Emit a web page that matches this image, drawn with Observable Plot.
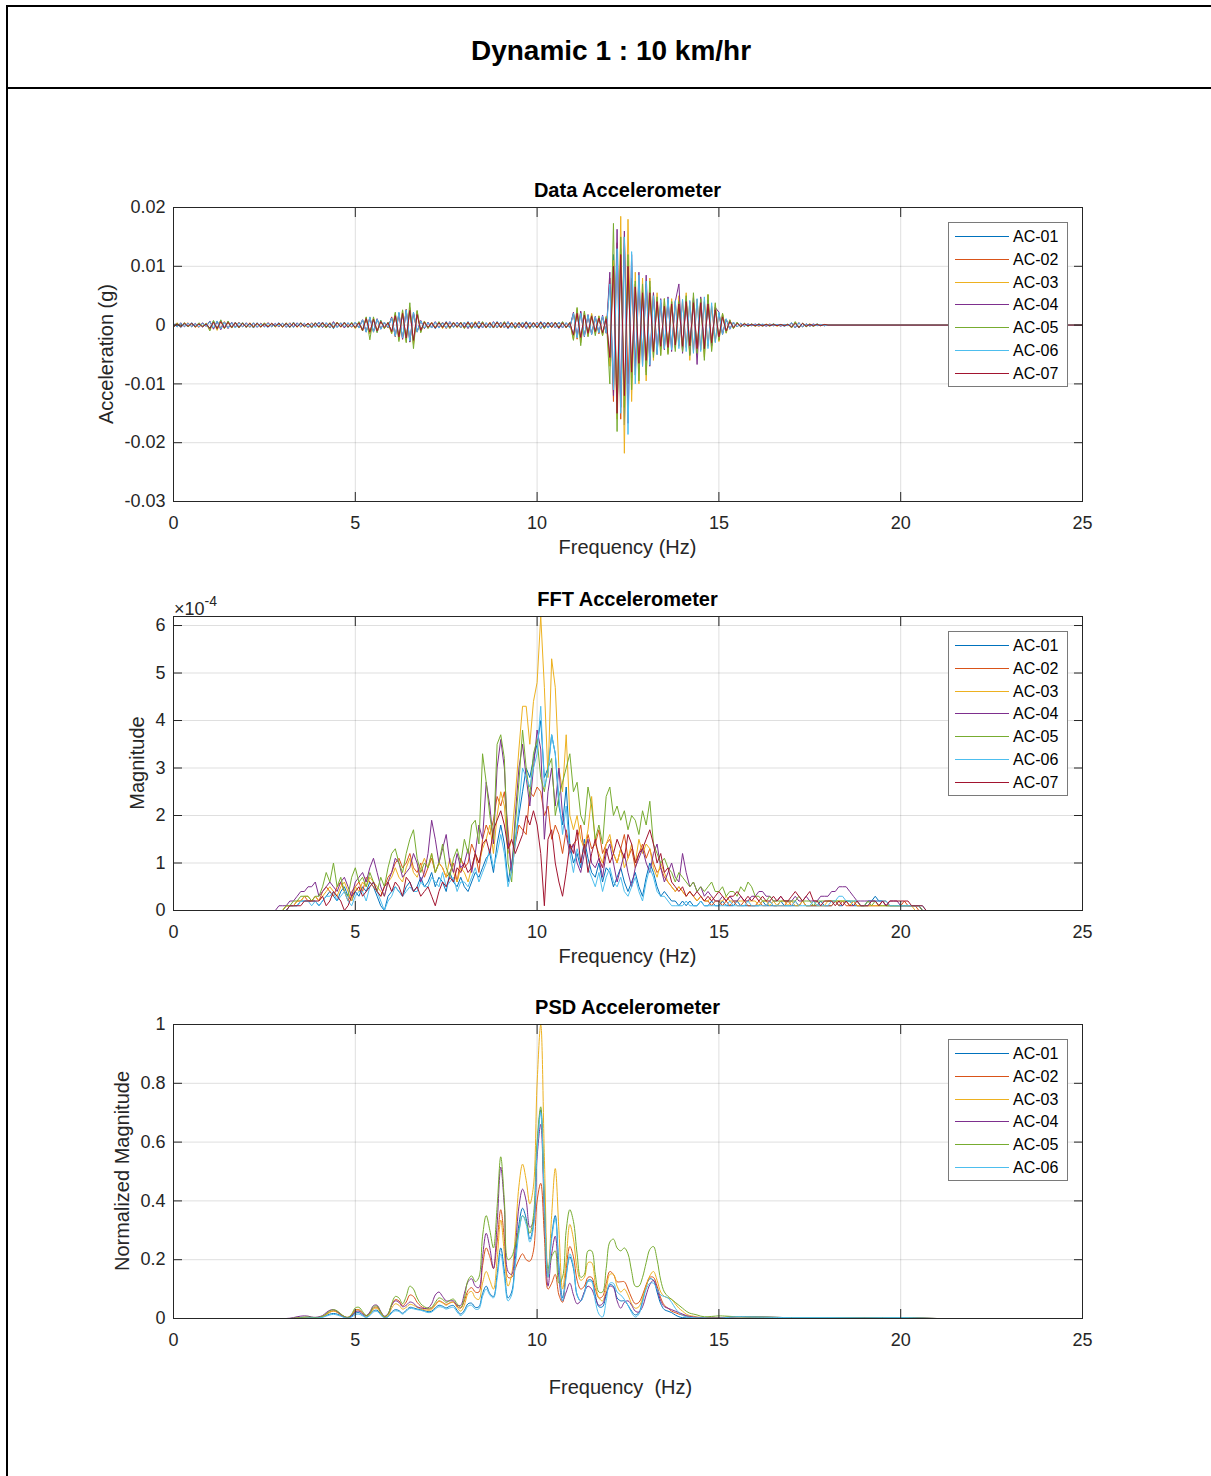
<!DOCTYPE html>
<html><head><meta charset="utf-8">
<script src="https://cdn.jsdelivr.net/npm/d3@7"></script>
<script src="https://cdn.jsdelivr.net/npm/@observablehq/plot@0.6"></script>
<style>
html,body{margin:0;padding:0;background:#fff;overflow:hidden;}
#page{position:relative;width:1211px;height:1476px;overflow:hidden;font-family:"Liberation Sans",Arial,Helvetica,sans-serif;color:#262626;background:#fff;}
.frame{position:absolute;left:6px;top:5px;width:1400px;height:1700px;border:2px solid #000;box-sizing:border-box;}
.band{position:absolute;left:6px;top:87px;width:1400px;height:2px;background:#000;}
.title{position:absolute;left:6px;width:1210px;top:37px;text-align:center;font-weight:bold;font-size:28px;line-height:1;color:#000;}
.ptitle{position:absolute;width:909px;left:173px;text-align:center;font-weight:bold;font-size:20px;line-height:1;color:#000;}
.xlabel{position:absolute;width:909px;left:173px;text-align:center;font-size:20px;line-height:1;white-space:pre;}
.ylabel{position:absolute;white-space:nowrap;font-size:20px;line-height:1;transform:translate(-50%,-50%) rotate(-90deg);}
.legend{position:absolute;left:948px;width:120px;border:1px solid #7a7a7a;background:#fff;box-sizing:border-box;}
.li{position:absolute;left:0;height:20px;width:118px;}
.li .sw{position:absolute;left:6px;width:54px;top:9px;height:0;}
.li .tx{position:absolute;left:64px;top:1px;font-size:16px;line-height:18px;color:#000;}
.expo{position:absolute;left:174px;top:596px;font-size:18px;line-height:1;}
.expo sup{font-size:14px;position:relative;top:-2px;}
</style></head>
<body><div id="page">
<div class="frame"></div><div class="band"></div>
<div class="title">Dynamic 1 : 10 km/hr</div>
</div>
<script>
// ---------------- DATA ----------------
const names = ["AC-01","AC-02","AC-03","AC-04","AC-05","AC-06","AC-07"];
const colors = ["#0072BD","#D95319","#EDB120","#7E2F8E","#77AC30","#4DBEEE","#A2142F"];
const xTicks = [0,5,10,15,20,25];

// Panel 1: acceleration, units 1e-4 g, sampled every 0.1 Hz from 0 to 18
const accX0 = 0, accStep = 0.1;
const acc01 = [0,3,-4,2,-3,4,-2,3,-3,2, -5,7,-6,8,-5,6,-4,5,-3,4, -4,3,-5,4,-3,2,-4,3,-2,4, -3,2,-4,5,-3,4,-2,3,-5,4, -3,5,-4,3,-6,4,-3,5,-4,3,
 -5,4,-8,12,-14,10,-12,8,-5,4, -12,18,-22,20,-25,28,-30,22,-10,6, -5,4,-6,5,-4,6,-5,4,-3,5, -4,6,-5,4,-6,5,-4,3,-5,6, -4,5,-6,4,-5,3,-4,6,-5,4,
 -5,6,-4,5,-3,4,-6,5,-4,3, -18,22,-25,20,-15,18,-12,14,-16,12, -60,120,-150,130,-170,110,-90,70,-75,60, -80,65,-50,45,-40,35,-45,40,-38,42,
 -40,45,-35,42,-48,40,-45,38,-35,30, -25,18,-12,8,-5,4,-3,2,-2,2, -1,2,-2,1,-1,2,-1,1,-2,1, -3,4,-5,3,-2,1,-2,2,-1,1, 0];
const acc02 = [2,-3,3,-2,4,-3,2,-4,3,-2, 6,-6,7,-5,6,-5,4,-4,5,-3, 3,-4,4,-3,3,-2,4,-3,2,-3, 3,-3,4,-4,3,-3,2,-4,4,-3, 4,-4,3,-5,5,-3,4,-4,3,-4,
 4,-5,9,-11,13,-12,10,-6,4,-5, 14,-20,20,-24,27,-28,20,-12,7,-5, 4,-5,5,-4,5,-6,4,-3,4,-5, 5,-5,4,-5,6,-4,3,-4,5,-5, 4,-5,5,-4,4,-3,5,-5,4,-4,
 5,-5,4,-4,4,-5,5,-4,3,-4, 20,-24,22,-18,16,-15,13,-15,14,-12, 80,-130,140,-160,150,-100,80,-70,65,-55, 70,-60,55,-45,38,-40,42,-38,40,-36,
 42,-38,40,-45,44,-42,40,-36,32,-28, 20,-15,10,-6,4,-3,2,-2,2,-1, 1,-2,1,-1,2,-1,1,-1,1,-1, 3,-4,4,-3,2,-2,1,-1,1,-1, 0];
const acc03 = [-3,4,-3,4,-2,3,-4,3,-2,3, -8,6,-9,7,-6,5,-5,4,-4,3, -3,4,-3,3,-4,3,-2,3,-3,2, -4,3,-3,4,-4,3,-3,3,-4,3, -4,4,-3,4,-5,5,-4,4,-3,3,
 -6,5,-10,13,-15,12,-10,7,-6,4, -15,20,-25,25,-28,30,-33,24,-12,7, -5,5,-4,5,-6,4,-5,4,-4,4, -5,5,-4,6,-5,4,-5,5,-4,5, -5,4,-5,5,-4,4,-5,5,-4,4,
 -4,5,-5,4,-4,5,-5,4,-4,4, -25,28,-30,22,-18,20,-14,16,-18,15, -70,110,-160,185,-218,180,-130,90,-100,80, -95,80,-60,55,-50,45,-48,45,-40,50,
 -45,55,-60,48,-50,45,-55,52,-42,35, -28,20,-14,9,-6,4,-3,3,-2,2, -2,1,-2,2,-1,1,-2,1,-1,1, -4,5,-4,3,-2,2,-2,1,-1,1, 0];
const acc04 = [3,-3,4,-3,3,-2,3,-3,4,-2, 7,-7,6,-8,5,-6,5,-4,4,-3, 4,-3,3,-4,3,-3,4,-2,3,-3, 3,-4,3,-3,4,-3,3,-4,3,-3, 5,-4,4,-4,6,-4,3,-5,4,-3,
 5,-4,9,-12,13,-11,11,-7,5,-4, 13,-19,21,-24,26,-29,22,-11,8,-6, 5,-4,6,-5,4,-5,6,-4,5,-4, 4,-6,5,-4,6,-5,4,-5,6,-4, 5,-4,6,-5,4,-5,4,-6,5,-4,
 4,-6,5,-4,5,-4,5,-5,4,-4, 22,-20,24,-20,18,-16,15,-13,17,-14, 90,-120,163,-140,160,-167,120,-85,90,-70, 85,-70,55,-50,45,-42,48,-45,40,70,
 -48,42,-50,46,-67,48,-40,42,-35,30, 22,-16,10,-7,5,-3,3,-2,2,-1, 2,-1,1,-2,1,-1,1,-2,1,-1, 4,-5,4,-3,2,-1,2,-1,1,-1, 0];
const acc05 = [-4,3,-3,4,-3,2,-3,4,-2,3, -10,8,-7,9,-6,7,-5,4,-5,4, -4,3,-4,3,-3,4,-3,2,-3,3, -3,4,-4,3,-3,4,-3,2,-4,4, -4,3,-5,4,-4,5,-3,4,-4,5,
 -5,6,-10,14,-25,14,-13,8,-6,5, -14,22,-28,26,-30,38,-40,25,-13,6, -6,4,-5,6,-4,5,-6,5,-4,5, -6,4,-6,5,-4,6,-5,4,-5,5, -4,6,-5,4,-6,5,-4,5,-6,4,
 -5,4,-6,5,-4,5,-4,6,-5,5, -26,30,-35,24,-20,16,-18,15,-18,14, -100,173,-181,150,-140,120,-110,75,-95,70, -85,75,-55,48,-52,45,-50,40,-45,40,
 -45,50,-52,55,-48,45,-60,52,-45,38, -26,20,-13,9,-6,5,-3,3,-2,2, -2,2,-1,1,-2,2,-1,1,-1,2, -5,6,-4,3,-3,2,-2,2,-1,1, 0];
const acc06 = [2,-3,3,-2,3,-3,2,-3,3,-2, 6,-5,7,-6,5,-5,4,-5,4,-3, 3,-3,4,-3,2,-3,3,-3,2,-2, 3,-3,3,-4,3,-3,3,-3,3,-4, 4,-3,4,-4,4,-4,4,-3,4,-3,
 5,-5,9,-12,14,-12,10,-7,5,-4, 12,-19,22,-22,26,-27,22,-12,7,-5, 4,-5,5,-5,4,-5,5,-4,4,-4, 5,-4,5,-5,5,-4,4,-5,5,-4, 4,-4,5,-5,4,-4,5,-4,5,-4,
 4,-5,4,-5,4,-4,5,-4,4,-5, 20,-22,20,-19,17,-16,14,-13,15,-13, 70,-110,130,-150,150,-186,125,-100,85,-70, 75,-68,50,-50,43,-40,45,-42,42,-40,
 44,-45,42,-48,45,-45,48,-40,38,-30, 22,-16,11,-7,5,-3,3,-2,2,-1, 1,-1,2,-1,1,-1,1,-1,1,-1, 4,-4,4,-3,2,-2,1,-1,1,-1, 0];
const acc07 = [-3,2,-3,3,-2,3,-3,2,-3,2, -6,5,-6,6,-5,5,-4,4,-4,3, -3,3,-3,3,-3,2,-3,3,-2,3, -3,3,-3,3,-3,3,-2,3,-3,3, -3,4,-3,3,-4,4,-3,4,-3,3,
 -4,4,-9,11,-12,10,-10,6,-4,4, -11,16,-20,20,-22,25,-26,18,-9,5, -4,4,-5,4,-4,5,-4,4,-3,4, -4,5,-4,4,-5,4,-4,4,-4,5, -4,4,-5,4,-4,4,-4,5,-4,4,
 -4,5,-4,4,-4,4,-5,4,-4,4, -17,20,-21,17,-14,15,-11,12,-13,11, -55,100,-150,120,-120,100,-80,65,-65,55, -60,55,-45,40,-36,32,-38,36,-34,36,
 -36,40,-35,38,-40,38,-40,36,-30,26, -20,14,-10,6,-4,3,-2,2,-1,1, -1,1,-1,1,-1,1,-1,1,-1,1, -3,3,-4,3,-2,1,-1,1,-1,1, 0];
const accTailX = [25], accTailV = [0];
const accYTicks = [-0.03,-0.02,-0.01,0,0.01,0.02];

// Panel 2: FFT magnitude, units 1e-5, every 0.1 Hz from 2.5 to 20.9
const fftX0 = 2.5, fftStep = 0.1;
const fft01 = [0,0,0,0,0, 0,0,1,1,1,2,2,2,2,2, 1,2,3,4,3,2,4,5,3,2, 4,3,5,4,6,5,3,1,0,3, 4,5,4,3,5,6,4,5,7,5, 6,8,5,7,6,4,8,6,5,7,
 5,4,6,8,7,9,11,12,8,14, 18,14,6,10,15,20,25,30,28,32, 35,40,28,30,37,33,22,18,26,14, 10,12,9,15,11,8,7,10,6,9, 8,5,7,9,6,4,6,8,5,3,
 7,10,8,5,3,4,3,2,2,1, 2,1,2,1,1,2,1,1,2,1, 1,2,1,1,1,2,1,1,1,1, 1,1,2,1,1,1,1,2,1,1, 1,1,1,2,1,1,1,1,2,1, 1,1,2,1,1,2,2,1,1,1,
 1,2,2,3,2,2,1,1,1,1, 1,1,1,1,1,1,0,0,0,0];
const fft02 = [0,0,0,0,0, 0,1,1,1,2,2,3,2,2,3, 2,4,5,4,3,5,6,4,2,4, 5,6,4,7,6,5,4,3,5,7, 8,10,11,9,10,12,9,8,10,7, 9,11,8,10,9,7,8,10,6,11,
 9,10,14,12,8,15,18,16,19,24, 22,25,17,8,14,18,17,16,25,24, 26,25,20,22,15,18,16,12,17,13, 14,15,18,12,16,13,14,17,12,14, 15,12,10,13,16,11,13,9,12,14,
 11,13,10,8,9,7,6,5,4,5, 4,3,4,3,2,3,2,2,1,2, 2,1,2,1,2,1,1,2,1,1, 1,2,1,1,2,1,1,1,1,2, 1,2,1,2,1,1,1,1,1,1, 1,1,2,1,2,1,1,2,1,1,
 1,1,1,1,1,2,2,1,1,1, 1,2,1,1,1,0,0,0,0,0];
const fft03 = [0,0,0,0,0, 0,1,1,1,2,2,3,3,2,3, 2,3,4,5,4,3,5,6,4,2, 5,4,6,5,7,6,5,4,3,6, 7,9,7,6,9,11,8,7,9,11, 9,12,8,10,9,7,11,8,6,9,
 8,6,9,12,10,13,15,18,12,20, 25,22,12,15,24,34,43,43,35,44, 48,62,47,28,53,47,30,25,37,20, 17,20,15,13,17,24,14,12,10,14, 16,12,10,13,9,11,14,10,15,12,
 14,13,9,7,10,8,6,5,4,5, 4,3,4,3,2,3,2,2,3,2, 2,2,3,2,2,2,2,2,2,2, 2,1,2,2,1,2,1,2,2,1, 2,1,1,2,1,1,2,1,1,1, 2,2,2,2,2,2,1,2,1,1,
 1,1,1,1,1,1,1,1,1,1, 1,1,1,1,0,0,0,0,0,0];
const fft04 = [0,0,0,0,1, 1,1,2,2,3,4,4,5,5,6, 3,4,5,6,5,4,6,7,5,3, 6,7,8,6,9,11,8,5,3,6, 8,11,10,7,8,9,12,10,6,8, 12,19,15,10,13,16,10,8,12,9,
 10,13,8,12,18,15,27,22,14,30, 36,30,15,8,20,30,35,28,22,30, 38,34,15,25,30,22,30,20,16,12, 14,10,8,12,15,10,9,11,7,12, 14,10,6,9,12,8,5,9,11,13,
 10,8,12,14,9,6,8,10,7,6, 12,8,5,6,4,5,3,4,3,2, 2,3,2,3,2,2,3,2,2,3, 3,4,4,3,3,2,2,3,2,2, 2,3,2,2,3,2,2,2,3,3, 3,4,4,5,5,5,4,3,2,2,
 2,2,2,2,2,2,1,2,2,2, 1,1,1,1,1,1,0,0,0,0];
const fft05 = [0,0,0,0,0, 0,1,1,2,2,3,3,3,2,3, 3,5,8,6,10,5,7,4,3,7, 9,6,7,5,8,6,4,7,5,9, 12,13,10,8,12,15,17,11,8,10, 9,12,8,10,14,9,7,11,13,10,
 15,12,18,19,14,33,27,20,15,35, 37,32,10,6,18,27,38,30,24,33, 36,28,25,30,32,20,24,27,30,33, 25,27,20,18,26,22,15,18,14,24, 26,20,22,19,21,17,20,19,16,21,
 18,23,14,12,10,11,9,8,6,8, 7,6,5,6,4,5,4,5,6,4, 4,5,3,4,4,3,5,4,6,5, 3,3,2,2,3,2,2,2,2,2, 2,2,3,2,2,2,1,2,2,2, 2,2,2,2,2,2,2,2,2,1,
 1,2,1,2,1,1,1,1,1,1, 1,1,1,1,1,1,0,0,0,0];
const fft06 = [0,0,0,0,0, 0,0,1,1,1,2,2,2,1,2, 1,2,3,3,4,2,3,4,2,1, 3,4,4,2,5,6,4,2,0,2, 3,5,4,3,4,5,4,4,6,5, 5,7,6,5,8,5,6,7,4,6,
 6,5,7,9,6,8,10,13,9,12, 16,12,5,8,14,22,30,28,26,30, 33,43,26,29,37,33,24,16,22,12, 8,13,10,14,9,7,5,8,4,7, 9,6,5,7,4,3,5,7,4,2,
 6,9,7,4,3,3,2,1,1,1, 1,2,1,1,1,2,1,1,1,1, 1,1,1,2,1,1,1,1,2,1, 1,1,1,1,2,1,1,1,1,1, 1,2,1,1,1,1,2,1,1,1, 1,2,2,3,3,2,2,2,2,1,
 1,1,2,2,2,2,2,1,1,1, 1,1,1,1,1,1,1,0,0,0];
const fft07 = [0,0,0,0,0, 0,0,1,1,1,1,2,2,2,2, 2,3,1,2,4,3,2,0,1,3, 4,5,3,4,5,6,4,3,5,6, 4,6,5,3,7,6,4,5,3,4, 5,3,1,4,6,5,7,6,9,8,
 10,8,9,12,10,14,15,12,17,19, 21,18,13,15,12,14,16,20,18,21, 18,12,1,15,17,10,6,3,8,14, 12,17,10,14,8,12,15,11,9,13, 10,12,15,13,11,16,14,10,12,13,
 15,17,14,10,12,8,9,6,5,4, 5,3,4,3,4,3,2,3,2,3, 4,3,2,3,3,4,3,2,3,2, 3,2,3,2,2,3,2,3,2,2, 3,4,3,2,3,4,2,2,1,2, 2,2,1,2,1,2,1,1,2,1,
 1,1,2,2,1,2,1,2,2,2, 2,2,2,1,1,1,1,0,0,0];
const fftLeadX = [0], fftLeadV = [0];
const fftTailX = [21.5, 25], fftTailV = [0, 0];
const fftYTicks = [0,1,2,3,4,5,6];

// Panel 3: PSD normalized, units 0.01, every 0.1 Hz from 3.0 to 15.0
const psdX0 = 3, psdStep = 0.1;
const psd01 = [0,0,0,0,0.1,0.1,0.2,0.2,0.2,0.2, 0.2,0.5,1.0,1.5,1.7,1.5,1.0,0.4,0.2,0.8, 1.8,2.0,1.2,0.5,1.3,2.6,2.8,1.5,0.3,0.7,
 2.2,3.0,2.7,1.8,2.8,3.8,3.6,3.2,3.0,2.7, 2.3,2.5,3.6,4.5,4.2,3.6,4.2,4.4,2.8,1.5, 2.8,5.0,5.2,3.8,4.0,8.5,11,8.5,7.5,15,
 24,16,7,9,20,32,37.5,34,27,32, 58,71,40,15,28,35,18,7,15,21, 17,8,6,9,13,13,8,4,4,8, 11.5,11,7,6,6,4.5,2.5,1.2,2,6,
 11,13.5,13,9,5,3,2.5,2,1.2,0.6, 0.3,0.2,0.2,0.1,0.1,0.1,0.1,0.1,0.1,0.1, 0.1];
const psd02 = [0,0,0,0,0.1,0.2,0.3,0.3,0.3,0.2, 0.3,0.7,1.4,2.2,2.6,2.2,1.3,0.6,0.4,1.3, 2.9,3.0,1.9,1.0,1.8,3.6,3.8,2.0,0.6,1.4,
 4.6,6.4,6.0,4.3,5.6,8.0,7.5,5.5,4.2,3.5, 3.2,3.4,4.8,6.0,5.5,4.8,5.3,5.6,4.2,3.5, 6.0,9.5,10.5,9.0,9.0,18,24,21,17,26,
 37,27,14,14,17,20,22,20,19.5,23, 40,46,28,10,12,15,8,5.5,17,24.5, 21,13,10,11,14,14,10,7,7.5,12, 16,15,12.5,12.5,12.5,10,7,5,5.5,8,
 11.5,14,14,11,7,4.5,3.5,2.5,2,1.5, 1.2,0.8,0.5,0.4,0.3,0.2,0.2,0.2,0.2,0.2, 0.2];
const psd03 = [0,0,0,0,0.1,0.2,0.3,0.3,0.3,0.2, 0.3,0.6,1.3,2.1,2.5,2.1,1.3,0.6,0.3,1.1, 2.7,2.9,1.8,0.8,1.5,3.2,3.4,1.8,0.5,1.0,
 3.5,5.0,4.5,3.2,3.8,4.8,4.5,3.8,3.3,3.0, 2.8,3.0,4.5,5.8,5.3,4.5,5.3,5.5,3.8,2.5, 4.5,8.5,9.2,7.0,6.5,12,16,13,10,20,
 33.5,22,11,15,28,45,52.5,47,39,45, 80,100,55,14,35,51,30,10,20,32, 27,17,13,14,19,19,12,7,6,10, 15,15,11,9,10,8,5,3.5,4,7,
 11,14.5,16,13,9,7.5,7,6.5,5,3.5, 2.5,1.5,1.0,0.8,0.5,0.4,0.3,0.3,0.3,0.3, 0.3];
const psd04 = [0,0,0.1,0.3,0.6,0.8,0.9,0.8,0.5,0.4, 0.6,1.0,2.0,2.8,3.0,2.4,1.4,0.6,0.3,1.0, 2.3,2.5,1.6,1.0,2.2,4.4,4.5,2.4,0.8,1.6,
 4.5,6.0,5.5,4.0,4.5,5.6,5.2,4.0,3.6,3.4, 3.6,5.0,8.0,9.0,7.5,6.0,6.0,6.0,4.5,4.5, 8.5,12.5,13.5,11,10.5,21,29,24,17,32,
 51.5,38,16,15,24,38,44,40,31,33, 55,66,35,11,22,28,14,6,9,12, 8,5,6,9,11,10,7,4.5,5,8.5, 11,10.5,6,3.5,5.5,6,4.5,2.5,2.2,4,
 8,11.5,13,10,6,4,3.5,3,2.5,2, 1.5,1,0.7,0.5,0.4,0.3,0.2,0.2,0.2,0.2, 0.2];
const psd05 = [0,0,0,0.1,0.2,0.3,0.5,0.5,0.4,0.3, 0.4,0.8,1.6,2.6,3.0,2.6,1.6,0.7,0.4,1.5, 3.6,3.8,2.4,1.0,1.8,4.0,4.2,2.2,0.6,1.5,
 5.0,7.5,7.0,5.0,7.5,11,10,7,5,4, 3.5,3.8,5.5,7,6.5,5.5,6.2,6.6,5,3.8, 7,13,14.5,12.5,14,28,35,30,24,38,
 55,40,20,21,25,30,35,33,29,35, 60,72,40,17,21,23,12,14,30,37, 33,22,14,15,23,23,15,9,9,17, 26,27,24,23,24,22,16,11,11,14,
 19,23.5,24.5,20,13,9,7.5,6.5,5.5,4.5, 3.5,2.5,1.8,1.5,1.2,0.8,0.6,0.6,0.7,0.8, 0.9];
const psd06 = [0,0,0,0,0,0.1,0.1,0.2,0.2,0.1, 0.2,0.4,0.8,1.2,1.4,1.2,0.8,0.3,0.1,0.5, 1.3,1.5,0.9,0.3,1.0,2.2,2.4,1.2,0.1,0.5,
 1.8,2.6,2.4,1.5,2.5,3.4,3.3,3.0,2.8,2.4, 2.0,2.2,3.2,4.0,3.8,3.2,3.6,3.8,2.2,1.0, 2.2,4.2,4.5,3.2,3.3,7.5,10,8,7,13.5,
 22,14,6,8,18,29,35,32,26,31, 57,70,39,14,27,34,17,6,14,22, 18,8,6,8.5,12.5,12.5,6,1.5,0.5,6, 12,12,9,8,6.5,4.5,2,0.5,1.5,5.5,
 10,12,12,10,8,7.5,7,5.5,3.5,2, 1,0.6,0.4,0.3,0.2,0.2,0.2,0.1,0.1,0.1, 0.1];
const psdLeadX = [0], psdLeadV = [0];
const psdTailX = [15.5,16,17,18,19,20,21,25], psdTailV = [0.6,0.5,0.3,0.3,0.2,0.3,0,0];
const psdYTicks = [0,0.2,0.4,0.6,0.8,1];

// ---------------- BUILD ----------------
const FONT = '"Liberation Sans", Arial, Helvetica, sans-serif';
const page = document.getElementById("page");
function grid(vals, x0, step, unit) { return vals.map((v, i) => ({x: Math.round((x0 + i * step) * 1000) / 1000, y: v * unit})); }
function pts(xs, vs, unit) { return xs.map((x, i) => ({x, y: vs[i] * unit})); }

const accSeries = [acc01,acc02,acc03,acc04,acc05,acc06,acc07].map(a => grid(a, accX0, accStep, 1e-4).concat(pts(accTailX, accTailV, 1e-4)));
const fftSeries = [fft01,fft02,fft03,fft04,fft05,fft06,fft07].map(a => pts(fftLeadX, fftLeadV, 0.1).concat(grid(a, fftX0, fftStep, 0.1), pts(fftTailX, fftTailV, 0.1)));
const psdSeries = [psd01,psd02,psd03,psd04,psd05,psd06].map(a => pts(psdLeadX, psdLeadV, 0.01).concat(grid(a, psdX0, psdStep, 0.01), pts(psdTailX, psdTailV, 0.01)));

function panel(top, yDomain, yTicks, yFmt, series, curve) {
  const svg = Plot.plot({
    width: 1211, height: 294 + 80,
    marginLeft: 173, marginRight: 129, marginTop: 40, marginBottom: 40,
    style: {fontFamily: FONT, fontSize: "18px", color: "#262626", background: "transparent", overflow: "visible"},
    x: {domain: [0, 25]},
    y: {domain: yDomain},
    marks: [
      Plot.gridX(xTicks, {stroke: "#262626", strokeOpacity: 0.15, strokeWidth: 1}),
      Plot.gridY(yTicks, {stroke: "#262626", strokeOpacity: 0.15, strokeWidth: 1}),
      ...series.map((d, k) => Plot.line(d, {x: "x", y: "y", stroke: colors[k], strokeWidth: 1, curve, clip: true})),
      Plot.frame({stroke: "#262626", strokeWidth: 1}),
      Plot.axisX(xTicks, {anchor: "bottom", tickSize: -9, tickPadding: 24, label: null, tickFormat: d => String(d)}),
      Plot.axisX(xTicks, {anchor: "top", tickSize: -9, label: null, tickFormat: () => ""}),
      Plot.axisY(yTicks, {anchor: "left", tickSize: -9, tickPadding: 17, label: null, tickFormat: yFmt}),
      Plot.axisY(yTicks, {anchor: "right", tickSize: -9, label: null, tickFormat: () => ""})
    ]
  });
  svg.style.position = "absolute";
  svg.style.left = "0px";
  svg.style.top = (top - 40) + "px";
  page.appendChild(svg);
}

panel(207, [-0.03, 0.02], accYTicks, d => d === 0 ? "0" : d.toFixed(2), accSeries, "linear");
panel(616, [0, 6.19], fftYTicks, d => String(d), fftSeries, "linear");
panel(1024, [0, 1], psdYTicks, d => String(d), psdSeries, "catmull-rom");

function addDiv(cls, html, css) {
  const el = document.createElement("div");
  el.className = cls; el.innerHTML = html;
  Object.assign(el.style, css);
  page.appendChild(el);
  return el;
}
addDiv("ptitle", "Data Accelerometer", {top: "180px"});
addDiv("ptitle", "FFT Accelerometer", {top: "589px"});
addDiv("ptitle", "PSD Accelerometer", {top: "997px"});
addDiv("xlabel", "Frequency (Hz)", {top: "537px"});
addDiv("xlabel", "Frequency (Hz)", {top: "946px"});
addDiv("xlabel", "Frequency  (Hz)", {top: "1377px", left: "166px"});
addDiv("ylabel", "Acceleration (g)", {left: "106px", top: "354px"});
addDiv("ylabel", "Magnitude", {left: "137px", top: "763px"});
addDiv("ylabel", "Normalized Magnitude", {left: "122px", top: "1171px"});
addDiv("expo", "×10<sup>-4</sup>", {});

function legend(top, count) {
  const box = addDiv("legend", "", {top: top + "px", height: Math.round(28 + 22.8 * (count - 1)) + "px"});
  for (let i = 0; i < count; i++) {
    const row = document.createElement("div");
    row.className = "li";
    row.style.top = Math.round(4 + 22.8 * i) + "px";
    row.innerHTML = '<div class="sw" style="border-top:1px solid ' + colors[i] + '"></div><div class="tx">' + names[i] + '</div>';
    box.appendChild(row);
  }
}
legend(222, 7);
legend(631, 7);
legend(1039, 6);
</script>
</body></html>
